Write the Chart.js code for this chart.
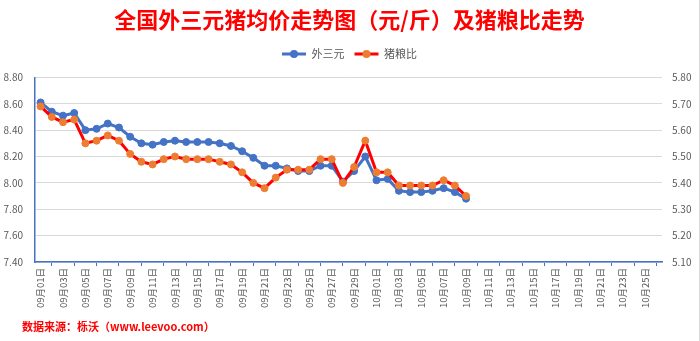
<!DOCTYPE html>
<html lang="zh">
<head>
<meta charset="UTF-8">
<title>全国外三元猪均价走势图</title>
<script src="https://cdn.jsdelivr.net/npm/chart.js"></script>
<style>
  html, body { margin: 0; padding: 0; background: #fff; }
  .wrap { position: relative; width: 699px; height: 341px; border-right: 1px solid #d9d9d9; }
  .source {
    position: absolute; left: 22px; top: 318px;
    font: bold 11px "Noto Sans CJK SC", sans-serif; color: #ff0000;
  }
</style>
</head>
<body>
<div class="wrap">
  <canvas id="grafico" width="699" height="341"></canvas>
  <div class="source">数据来源：栎沃（www.leevoo.com）</div>
</div>
<script>
// 日期 09月01日 ~ 10月26日
const dias = [
  '09月01日','09月02日','09月03日','09月04日','09月05日','09月06日','09月07日','09月08日','09月09日','09月10日',
  '09月11日','09月12日','09月13日','09月14日','09月15日','09月16日','09月17日','09月18日','09月19日','09月20日',
  '09月21日','09月22日','09月23日','09月24日','09月25日','09月26日','09月27日','09月28日','09月29日','09月30日',
  '10月01日','10月02日','10月03日','10月04日','10月05日','10月06日','10月07日','10月08日','10月09日','10月10日',
  '10月11日','10月12日','10月13日','10月14日','10月15日','10月16日','10月17日','10月18日','10月19日','10月20日',
  '10月21日','10月22日','10月23日','10月24日','10月25日','10月26日'
];

// 外三元 (元/斤), 左轴
const precoPorco = [
  8.61, 8.54, 8.51, 8.53, 8.40, 8.41, 8.45, 8.42, 8.35, 8.30,
  8.29, 8.31, 8.32, 8.31, 8.31, 8.31, 8.30, 8.28, 8.24, 8.19,
  8.13, 8.13, 8.11, 8.09, 8.09, 8.13, 8.13, 8.01, 8.09, 8.20,
  8.02, 8.03, 7.94, 7.93, 7.93, 7.94, 7.96, 7.93, 7.88
];

// 猪粮比, 右轴
const razaoGrao = [
  5.69, 5.65, 5.63, 5.64, 5.55, 5.56, 5.58, 5.56, 5.51, 5.48,
  5.47, 5.49, 5.50, 5.49, 5.49, 5.49, 5.48, 5.47, 5.44, 5.40,
  5.38, 5.42, 5.45, 5.45, 5.45, 5.49, 5.49, 5.40, 5.46, 5.56,
  5.44, 5.44, 5.39, 5.39, 5.39, 5.39, 5.41, 5.39, 5.35
];

const eixoEsq = { min: 7.40, max: 8.80, passo: 0.20 };
const eixoDir = { min: 5.10, max: 5.80, passo: 0.10 };

const fonte = '"Noto Sans CJK SC", sans-serif';
const cinza = '#595959';
const azul = '#4472C4';

// legenda: espaço extra embaixo + ponto no meio da linha
const legendaPonto = {
  id: 'legendaPonto',
  beforeInit(chart) {
    const fitOrig = chart.legend.fit;
    chart.legend.fit = function () {
      fitOrig.call(this);
      this.height += 8;
    };
  },
  afterDraw(chart) {
    const lg = chart.legend;
    if (!lg || !lg.legendHitBoxes) return;
    const ctx = chart.ctx;
    const cores = [azul, '#ED7D31'];
    lg.legendHitBoxes.forEach((b, i) => {
      const item = lg.legendItems[i];
      ctx.save();
      ctx.fillStyle = cores[item.datasetIndex];
      ctx.beginPath();
      ctx.arc(b.left + 12, b.top + b.height / 2, 4, 0, Math.PI * 2);
      ctx.fill();
      ctx.restore();
    });
  }
};

const ctx = document.getElementById('grafico').getContext('2d');
const chart = new Chart(ctx, {
  type: 'line',
  data: {
    labels: dias,
    datasets: [
      {
        label: '外三元', data: precoPorco, yAxisID: 'y', order: 2,
        borderColor: azul, backgroundColor: azul, borderWidth: 3,
        pointRadius: 3.5, pointBorderWidth: 1, pointBackgroundColor: azul, pointBorderColor: azul,
        tension: 0
      },
      {
        label: '猪粮比', data: razaoGrao, yAxisID: 'y1', order: 1,
        borderColor: '#FF0000', backgroundColor: '#FF0000', borderWidth: 3,
        pointRadius: 3.5, pointBorderWidth: 1, pointBackgroundColor: '#ED7D31', pointBorderColor: '#ED7D31',
        tension: 0
      }
    ]
  },
  options: {
    responsive: false,
    animation: false,
    devicePixelRatio: 1,
    plugins: {
      title: {
        display: true,
        text: '全国外三元猪均价走势图（元/斤）及猪粮比走势',
        color: '#FF0000',
        font: { family: fonte, size: 22, weight: 'bold' },
        padding: { top: 6, bottom: 6 }
      },
      legend: {
        position: 'top',
        labels: {
          color: cinza,
          font: { family: fonte, size: 11 },
          boxWidth: 24, boxHeight: 3,
          padding: 10,
          sort: (a, b) => a.datasetIndex - b.datasetIndex,
          generateLabels: chart => {
            const itens = Chart.defaults.plugins.legend.labels.generateLabels(chart);
            itens.forEach(it => { it.lineWidth = 0; it.fillStyle = it.strokeStyle; });
            return itens;
          }
        }
      },
      tooltip: { enabled: false }
    },
    scales: {
      x: {
        offset: true,
        grid: { offset: true, drawOnChartArea: false, drawTicks: true, tickLength: 4, color: azul },
        border: { color: azul, width: 1.5 },
        ticks: {
          autoSkip: false, maxRotation: 90, minRotation: 90, padding: 2,
          color: cinza, font: { family: fonte, size: 9.5 },
          callback: function (v, i) { return i % 2 === 0 ? this.getLabelForValue(v) : null; }
        },
        afterFit: s => { s.height = 79; s.paddingLeft = 0; s.paddingRight = 0; }
      },
      y: {
        position: 'left',
        min: eixoEsq.min, max: eixoEsq.max,
        grid: { color: '#d9d9d9', drawTicks: false },
        border: { color: azul, width: 1.5 },
        ticks: {
          stepSize: eixoEsq.passo, padding: 12, color: cinza,
          font: { family: fonte, size: 10 },
          callback: v => v.toFixed(2)
        },
        afterFit: s => { s.width = 35; }
      },
      y1: {
        position: 'right',
        min: eixoDir.min, max: eixoDir.max,
        grid: { drawOnChartArea: false, drawTicks: false },
        border: { display: false },
        ticks: {
          stepSize: eixoDir.passo, padding: 10, color: cinza,
          font: { family: fonte, size: 10 },
          callback: v => v.toFixed(2)
        },
        afterFit: s => { s.width = 37; }
      }
    }
  },
  plugins: [legendaPonto]
});
</script>
</body>
</html>
